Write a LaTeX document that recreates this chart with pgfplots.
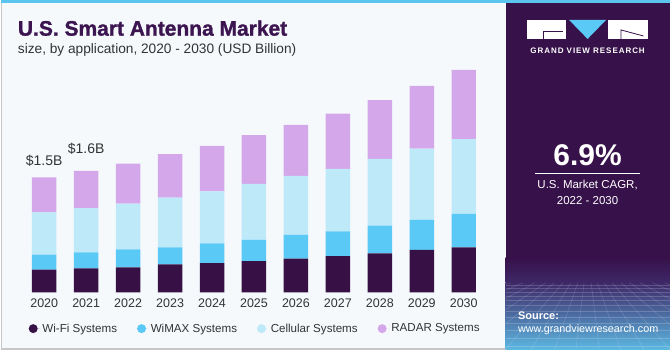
\documentclass[border=0pt]{standalone}
\usepackage{pgfplots}
\pgfplotsset{compat=1.18}
\usepackage{fontspec}
\setmainfont{Liberation Sans}
\definecolor{wifi}{HTML}{371146}
\definecolor{wimax}{HTML}{5BC9F5}
\definecolor{cell}{HTML}{BDE9F9}
\definecolor{radar}{HTML}{D4A7EA}
\definecolor{bg}{HTML}{F5F9FC}
\definecolor{panel}{HTML}{37114A}
\definecolor{titlec}{HTML}{3B1450}
\definecolor{txt}{HTML}{333333}
\definecolor{strip}{HTML}{5BC5F0}
\definecolor{gradtop}{HTML}{3E2868}
\definecolor{gradbot}{HTML}{5CB8E2}

\pgfplotstableread{
x wifi wimax cell radar
0 0.297 0.197 0.554 0.459
1 0.314 0.210 0.582 0.489
2 0.328 0.236 0.599 0.524
3 0.367 0.223 0.651 0.572
4 0.385 0.257 0.681 0.599
5 0.411 0.279 0.734 0.638
6 0.441 0.314 0.773 0.668
7 0.477 0.322 0.821 0.724
8 0.511 0.363 0.878 0.769
9 0.559 0.393 0.934 0.821
10 0.590 0.441 0.979 0.908
}\datatable

\begin{document}
\begin{tikzpicture}[x=1pt,y=1pt]
% backgrounds
\fill[bg] (0,0) rectangle (670,350);
\fill[strip] (0,346.5) rectangle (670,350);
\draw[black!22, line width=1.5pt] (0.75,0) -- (0.75,346.5);
\draw[black!22, line width=1.5pt] (0,0.75) -- (505.5,0.75);
% right panel
\fill[panel] (505.5,0) rectangle (670,346.5);
\shade[top color=panel, bottom color=gradtop] (505.5,67) rectangle (670,92);
\shade[top color=gradtop, bottom color=gradbot] (505.5,0) rectangle (670,67);
\begin{scope}
\clip (505.5,0) rectangle (670,67);
\foreach \yy in {64,61,57.5,53.5,49,44,38.5,32.5,26,19,11.5,3.5}{
  \draw[white, opacity=0.18, line width=0.45pt] (505.5,\yy) -- (670,\yy);
}
\foreach \xx in {-260,-220,-185,-150,-120,-95,-70,-48,-28,-10,10,28,48,70,95,120,150,185,220,260}{
  \draw[white, opacity=0.18, line width=0.45pt] (587.5+\xx*0.35,67) -- (587.5+\xx*1.3,-10);
}
\end{scope}
% logo
\fill[white] (526.7,311) rectangle (565.7,330);
\draw[panel, line width=0.8pt] (543,311) -- (543,319) -- (563,319);
\fill[wimax] (569,330) -- (606,330) -- (587.5,311) -- cycle;
\fill[white] (608.3,311) rectangle (647.7,330);
\draw[panel, line width=0.8pt] (621,311) -- (621,320) -- (643.3,314);
\node[text=white, font=\fontsize{8}{9}\selectfont\bfseries\addfontfeature{LetterSpace=12}, anchor=center] at (587.5,299.3) {GRAND VIEW RESEARCH};
% CAGR
\node[text=white, font=\fontsize{30}{32}\selectfont\bfseries, anchor=center] at (587.5,195) {6.9\%};
\draw[white, line width=0.8pt] (534.7,176.7) -- (640,176.7);
\node[text=white, font=\fontsize{11.5}{13}\selectfont, anchor=center] at (587.5,165) {U.S. Market CAGR,};
\node[text=white, font=\fontsize{11.5}{13}\selectfont, anchor=center] at (587.5,149) {2022 - 2030};
% source
\node[text=white, font=\fontsize{11}{13}\selectfont\bfseries, anchor=base west, inner sep=0pt] at (517.7,30) {Source:};
\node[text=white, font=\fontsize{10.8}{13}\selectfont, anchor=base west, inner sep=0pt] at (517.7,17) {www.grandviewresearch.com};
% title
\node[text=titlec, font=\fontsize{21}{24}\selectfont\bfseries\addfontfeature{FakeBold=1.2}, anchor=base west, inner sep=0pt] at (17,314.3) {U.S. Smart Antenna Market};
\node[text=txt, font=\fontsize{13.7}{16}\selectfont, anchor=base west, inner sep=0pt] at (17,296.7) {size, by application, 2020 - 2030 (USD Billion)};

\begin{axis}[
  at={(1.5pt,57.3pt)}, anchor=south west,
  scale only axis, width=504pt, height=244.27pt,
  xmin=-1, xmax=11, ymin=0, ymax=3.2,
  ybar stacked, bar width=24.5pt,
  axis line style={draw=none},
  ytick=\empty,
  xtick={0,...,10},
  xticklabels={2020,2021,2022,2023,2024,2025,2026,2027,2028,2029,2030},
  major tick length=0pt,
  xticklabel style={font=\fontsize{12.5}{14}\selectfont, text=txt, yshift=-3pt},
  legend columns=4,
  legend style={draw=none, fill=none, at={(0.0522,-0.1486)}, anchor=west, inner sep=0pt,
    font=\fontsize{11.6}{13}\selectfont, text=txt,
    /tikz/every even column/.append style={column sep=18pt}},
  legend image code/.code={\path (0pt,0pt) -- (11.73pt,0pt); \fill[#1] (4.5pt,0pt) circle (4.5pt);},
  clip=false,
]
\addplot[fill=wifi, draw=none] table[x=x, y=wifi] {\datatable};
\addlegendentry{Wi-Fi Systems}
\addplot[fill=wimax, draw=none] table[x=x, y=wimax] {\datatable};
\addlegendentry{WiMAX Systems}
\addplot[fill=cell, draw=none] table[x=x, y=cell] {\datatable};
\addlegendentry{Cellular Systems}
\addplot[fill=radar, draw=none] table[x=x, y=radar] {\datatable};
\addlegendentry{RADAR Systems}
\node[anchor=base, text=txt, font=\fontsize{14}{16}\selectfont] at (axis cs:0,1.66) {\$1.5B};
\node[anchor=base, text=txt, font=\fontsize{14}{16}\selectfont] at (axis cs:1,1.82) {\$1.6B};
\end{axis}
\end{tikzpicture}
\end{document}
